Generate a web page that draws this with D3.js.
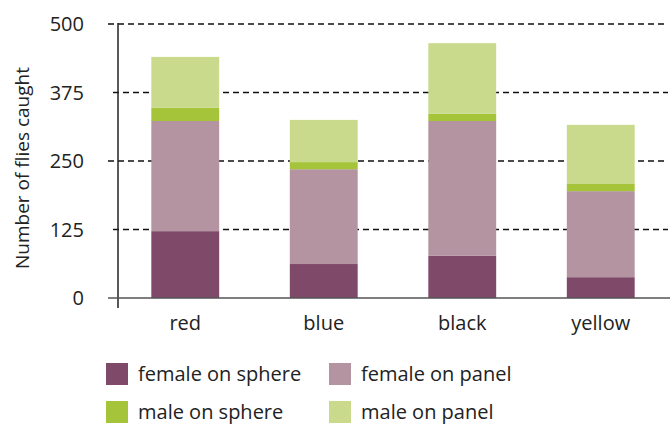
<!DOCTYPE html>
<html>
<head>
<meta charset="utf-8">
<script src="https://cdn.jsdelivr.net/npm/d3@7"></script>
<style>
  body { margin: 0; background: #fff; }
  svg { font-family: "Open Sans", Lato, sans-serif; }
</style>
</head>
<body>
<svg id="chart" width="672" height="424"></svg>
<script>
// data
const categories = ["red", "blue", "black", "yellow"];
const seriesNames = ["female on sphere", "female on panel", "male on sphere", "male on panel"];
const femaleSphere = [122, 62, 77, 38];
const femalePanel = [201, 173, 246, 157];
const maleSphere = [24, 13, 13, 13];
const malePanel = [93, 77, 129, 108];
const yTicks = [0, 125, 250, 375, 500];
const colors = ["#7f4a6a", "#b494a1", "#a5c43a", "#c9da8c"];

const svg = d3.select("#chart");
const plotLeft = 118, plotRight = 670, plotTop = 24, plotBottom = 298;

// stack table built from the arrays
const rows = categories.map((c, i) => ({
  cat: c,
  "female on sphere": femaleSphere[i],
  "female on panel": femalePanel[i],
  "male on sphere": maleSphere[i],
  "male on panel": malePanel[i]
}));
const stacked = d3.stack().keys(seriesNames)(rows);

const x = d3.scaleBand().domain(categories).range([116, plotRight]).paddingInner(0.51).paddingOuter(0.255);
const y = d3.scaleLinear().domain([0, 500]).range([plotBottom, plotTop]);

// gridlines
svg.append("g").selectAll("line").data(yTicks.filter(d => d > 0)).enter().append("line")
  .attr("x1", (d, i) => i % 2 === 0 ? 113 : 108).attr("x2", 668)
  .attr("y1", d => y(d)).attr("y2", d => y(d))
  .attr("stroke", "#111").attr("stroke-width", 1.3).attr("stroke-dasharray", "6,4");

// bars
svg.append("g").selectAll("g").data(stacked).enter().append("g")
  .attr("fill", (d, i) => colors[i])
  .selectAll("rect").data(d => d).enter().append("rect")
  .attr("x", d => x(d.data.cat))
  .attr("width", x.bandwidth())
  .attr("y", d => y(d[1]))
  .attr("height", d => y(d[0]) - y(d[1]));

// axes
svg.append("line").attr("x1", plotLeft).attr("x2", plotLeft).attr("y1", 23).attr("y2", 308)
  .attr("stroke", "#222").attr("stroke-width", 1.5);
svg.append("line").attr("x1", 108).attr("x2", 670).attr("y1", plotBottom).attr("y2", plotBottom)
  .attr("stroke", "#555").attr("stroke-width", 1.5);

// y tick labels
svg.append("g").selectAll("text").data(yTicks).enter().append("text")
  .attr("x", 84).attr("y", d => y(d)).attr("dy", "0.35em")
  .attr("text-anchor", "end").attr("font-size", 20).attr("fill", "#222")
  .text(d => d);

// y title
svg.append("text").attr("transform", "translate(22,168) rotate(-90)")
  .attr("text-anchor", "middle").attr("dy", "0.35em").attr("font-size", 19).attr("fill", "#222")
  .text("Number of flies caught");

// category labels
svg.append("g").selectAll("text").data(categories).enter().append("text")
  .attr("x", d => x(d) + x.bandwidth() / 2).attr("y", 323).attr("dy", "0.35em")
  .attr("text-anchor", "middle").attr("font-size", 20).attr("fill", "#222")
  .text(d => d);

// legend
const leg = svg.append("g").selectAll("g").data(seriesNames).enter().append("g")
  .attr("transform", (d, i) => `translate(${i % 2 === 0 ? 106 : 329},${i < 2 ? 363 : 401})`);
leg.append("rect").attr("width", 22).attr("height", 22).attr("fill", (d, i) => colors[i]);
leg.append("text").attr("x", 32).attr("y", 11).attr("dy", "0.35em")
  .attr("font-size", 20).attr("fill", "#222").text(d => d);
</script>
</body>
</html>
